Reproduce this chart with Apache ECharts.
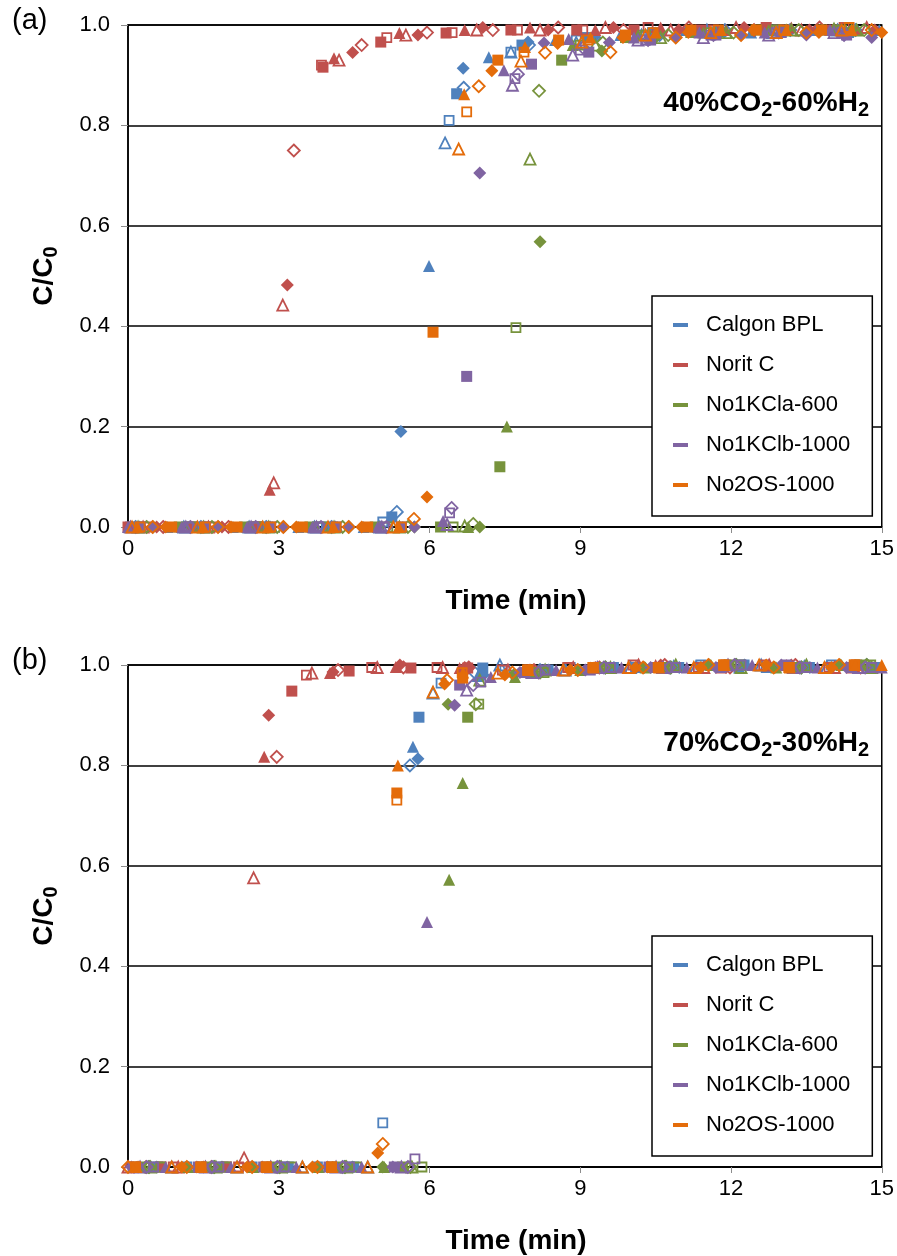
<!DOCTYPE html>
<html>
<head>
<meta charset="utf-8">
<script src="https://cdn.jsdelivr.net/npm/echarts@6/dist/echarts.min.js"></script>
<style>
html,body{margin:0;padding:0;background:#fff;}
#chart{width:897px;height:1256px;}
</style>
</head>
<body>
<div id="chart"></div>
<script>
// ---------------- DATA ----------------
const MATERIALS = ['Calgon BPL', 'Norit C', 'No1KCla-600', 'No1KClb-1000', 'No2OS-1000'];
const X_TICKS = [0, 3, 6, 9, 12, 15];
const Y_TICKS = [0.0, 0.2, 0.4, 0.6, 0.8, 1.0];
const PANEL_LABELS = ['(a)', '(b)'];
const GAS_LABELS = [['40%CO', '2', '-60%H', '2'], ['70%CO', '2', '-30%H', '2']];
// each material: 6 runs [filled square, filled triangle, filled diamond, open square, open triangle, open diamond]; points [time(min), C/C0]

// Panel (a) 40%CO2-60%H2
const A_CALGON = [
  [[0.05,0],[1.35,0],[2.65,0],[3.95,0],[5.25,0.02],[6.54,0.863],[7.84,0.96],[9.14,0.975],[10.44,0.985],[11.74,0.988],[13.04,0.99],[14.34,0.985]],
  [[0.79,0],[2.09,0],[3.39,0],[4.69,0],[5.99,0.52],[7.18,0.936],[8.5,0.97],[9.8,0.98],[11.1,0.99],[12.4,0.985],[13.7,0.99],[14.95,0.99]],
  [[0.23,0],[1.53,0],[2.83,0],[4.13,0],[5.43,0.19],[6.67,0.914],[7.96,0.966],[9.26,0.975],[10.56,0.98],[11.86,0.985],[13.16,0.99],[14.46,0.99]],
  [[1.17,0],[2.47,0],[3.77,0],[5.07,0.01],[6.39,0.81],[7.62,0.946],[8.92,0.97],[10.22,0.98],[11.52,0.985],[12.82,0.99],[14.12,0.99]],
  [[1.11,0],[2.41,0],[3.71,0],[5.01,0],[6.31,0.765],[7.62,0.946],[8.92,0.965],[10.22,0.98],[11.52,0.99],[12.82,0.985],[14.12,0.99]],
  [[0.15,0],[1.45,0],[2.75,0],[4.05,0],[5.35,0.03],[6.68,0.875],[7.98,0.96],[9.28,0.975],[10.58,0.98],[11.88,0.99],[13.18,0.99],[14.48,0.99]]
];
const A_NORIT = [
  [[0.0,0],[1.28,0],[2.58,0],[3.88,0.916],[5.03,0.966],[6.33,0.984],[7.62,0.99],[8.93,0.99],[10.07,0.99],[11.4,0.99],[12.7,0.995],[14.0,0.99]],
  [[0.22,0],[1.52,0],[2.82,0.074],[4.1,0.934],[5.4,0.984],[6.7,0.99],[8.0,0.995],[9.3,0.99],[10.6,0.995],[11.9,0.99],[13.2,0.995],[14.5,0.99]],
  [[0.57,0],[1.87,0],[3.17,0.482],[4.47,0.945],[5.77,0.98],[7.06,0.995],[8.36,0.99],[9.66,0.995],[10.96,0.99],[12.26,0.995],[13.56,0.99],[14.86,0.99]],
  [[0.35,0],[1.65,0],[2.55,0],[3.85,0.92],[5.15,0.975],[6.45,0.985],[7.75,0.99],[9.05,0.99],[10.35,0.995],[11.65,0.99],[12.95,0.99],[14.25,0.995]],
  [[0.3,0],[1.6,0],[2.9,0.088],[3.08,0.442],[4.2,0.93],[5.53,0.98],[6.94,0.99],[8.2,0.99],[9.5,0.995],[10.8,0.99],[12.1,0.995],[13.4,0.99],[14.7,0.995]],
  [[0.7,0],[2.0,0],[3.3,0.75],[4.65,0.96],[5.95,0.985],[7.26,0.99],[8.56,0.995],[9.86,0.99],[11.16,0.995],[12.46,0.99],[13.76,0.995]]
];
const A_KCLA = [
  [[1.02,0],[2.32,0],[3.62,0],[4.92,0],[6.22,0],[7.4,0.12],[8.63,0.93],[9.9,0.975],[11.2,0.985],[12.5,0.99],[13.8,0.99]],
  [[0.27,0],[1.57,0],[2.87,0],[4.17,0],[5.47,0],[6.77,0],[7.54,0.2],[8.85,0.96],[10.15,0.98],[11.45,0.985],[12.75,0.99],[14.05,0.995]],
  [[0.5,0],[1.8,0],[3.1,0],[4.4,0],[5.7,0],[7.0,0],[8.2,0.568],[9.43,0.948],[10.5,0.975],[11.8,0.985],[13.1,0.99],[14.4,0.99]],
  [[1.27,0],[2.57,0],[3.87,0],[5.17,0],[6.47,0],[7.72,0.397],[9.0,0.96],[10.3,0.98],[11.6,0.985],[12.9,0.99],[14.2,0.99]],
  [[0.2,0],[1.5,0],[2.8,0],[4.1,0],[5.4,0],[6.7,0.002],[8.0,0.733],[9.3,0.96],[10.6,0.975],[11.9,0.985],[13.2,0.99],[14.5,0.99]],
  [[0.37,0],[1.67,0],[2.97,0],[4.27,0],[5.57,0],[6.87,0.006],[8.18,0.869],[9.45,0.965],[10.75,0.98],[12.05,0.985],[13.35,0.99],[14.65,0.99]]
];
const A_KCLB = [
  [[0.24,0],[1.54,0],[2.84,0],[4.14,0],[5.44,0],[6.74,0.30],[8.03,0.922],[9.17,0.946],[10.4,0.97],[11.7,0.98],[13.0,0.985],[14.3,0.98]],
  [[0.0,0],[1.07,0],[2.37,0],[3.67,0],[4.97,0],[6.27,0.012],[7.48,0.91],[8.77,0.972],[10.07,0.975],[11.37,0.985],[12.67,0.985],[13.97,0.99]],
  [[0.5,0],[1.8,0],[3.1,0],[4.4,0],[5.7,0],[7.0,0.705],[8.28,0.964],[9.58,0.965],[10.9,0.975],[12.2,0.98],[13.5,0.98],[14.8,0.975]],
  [[1.2,0],[2.5,0],[3.8,0],[5.1,0],[6.4,0.028],[7.7,0.893],[9.0,0.95],[10.3,0.97],[11.6,0.98],[12.9,0.985],[14.2,0.985]],
  [[0.05,0],[1.15,0],[2.45,0],[3.75,0],[5.05,0],[6.35,0.005],[7.65,0.88],[8.85,0.94],[10.15,0.97],[11.45,0.975],[12.75,0.98],[14.05,0.985]],
  [[1.24,0],[2.54,0],[3.84,0],[5.14,0],[6.44,0.038],[7.76,0.902],[9.05,0.955],[10.35,0.97],[11.65,0.98],[12.95,0.985],[14.25,0.98]]
];
const A_OS = [
  [[0.87,0],[2.17,0],[3.47,0],[4.77,0],[6.07,0.388],[7.36,0.93],[8.57,0.97],[9.9,0.98],[11.2,0.99],[12.5,0.99],[13.8,0.99]],
  [[0.19,0],[1.49,0],[2.79,0],[4.09,0],[5.39,0],[6.69,0.862],[7.9,0.956],[9.2,0.975],[10.5,0.985],[11.8,0.99],[13.1,0.99],[14.4,0.99]],
  [[0.75,0],[2.05,0],[3.35,0],[4.65,0],[5.95,0.06],[7.24,0.909],[8.55,0.963],[9.85,0.975],[11.15,0.985],[12.45,0.99],[13.75,0.985],[15.0,0.985]],
  [[0.24,0],[1.54,0],[2.84,0],[4.14,0],[5.44,0],[6.74,0.827],[7.88,0.946],[9.15,0.97],[10.45,0.985],[11.75,0.99],[13.05,0.99],[14.35,0.995]],
  [[0.08,0],[1.38,0],[2.68,0],[3.98,0],[5.28,0],[6.58,0.753],[7.82,0.928],[9.03,0.966],[10.3,0.98],[11.6,0.985],[12.9,0.985],[14.2,0.99]],
  [[0.49,0],[1.79,0],[3.09,0],[4.39,0],[5.69,0.016],[6.98,0.878],[8.3,0.945],[9.6,0.946],[10.9,0.975],[12.2,0.98],[13.5,0.985],[14.8,0.99]]
];

// Panel (b) 70%CO2-30%H2
const B_CALGON = [
  [[0.59,0],[1.89,0],[3.19,0],[4.49,0],[5.79,0.896],[7.06,0.994],[8.36,0.99],[9.66,0.995],[10.96,0.995],[12.26,1.0],[13.56,0.995],[14.86,0.995]],
  [[0.47,0],[1.77,0],[3.07,0],[4.37,0],[5.67,0.837],[6.96,0.978],[8.26,0.99],[9.56,0.995],[10.86,1.0],[12.16,0.995],[13.46,1.0],[14.76,0.995]],
  [[0.57,0],[1.87,0],[3.17,0],[4.47,0],[5.77,0.813],[7.07,0.98],[8.37,0.99],[9.67,0.995],[10.97,0.995],[12.27,1.0],[13.57,0.995],[14.87,0.995]],
  [[1.17,0],[2.47,0],[3.77,0],[5.07,0.088],[6.23,0.964],[7.5,0.99],[8.8,0.995],[10.1,0.995],[11.4,1.0],[12.7,0.995],[14.0,1.0]],
  [[0.87,0],[2.17,0],[3.47,0],[4.77,0],[6.07,0.944],[7.4,1.0],[8.7,0.99],[10.0,0.995],[11.3,0.995],[12.6,1.0],[13.9,0.995]],
  [[0.41,0],[1.71,0],[3.01,0],[4.31,0],[5.61,0.8],[6.9,0.985],[8.2,0.99],[9.5,0.995],[10.8,0.995],[12.1,1.0],[13.4,0.995],[14.7,1.0]]
];
const B_NORIT = [
  [[0.66,0],[1.96,0],[3.26,0.948],[4.4,0.988],[5.63,0.994],[6.76,0.994],[8.0,0.99],[9.3,0.995],[10.6,0.995],[11.9,1.0],[13.2,0.995],[14.5,1.0]],
  [[0.11,0],[1.41,0],[2.71,0.817],[4.02,0.984],[5.33,0.996],[6.6,0.994],[7.9,0.99],[9.2,0.995],[10.5,1.0],[11.8,0.995],[13.1,1.0],[14.4,0.995]],
  [[0.2,0],[1.5,0],[2.8,0.9],[4.08,0.986],[5.41,1.0],[6.7,0.995],[8.0,0.99],[9.3,0.995],[10.6,1.0],[11.9,0.995],[13.2,1.0],[14.5,0.995]],
  [[0.9,0],[2.2,0],[3.55,0.98],[4.85,0.995],[6.15,0.995],[7.45,0.99],[8.75,0.995],[10.05,1.0],[11.35,0.995],[12.65,1.0],[13.95,0.995]],
  [[0.0,0],[1.0,0],[2.31,0.018],[2.5,0.576],[3.66,0.984],[4.96,0.995],[6.26,0.995],[7.56,0.99],[8.86,0.995],[10.16,1.0],[11.46,0.995],[12.76,1.0],[14.06,0.995]],
  [[0.36,0],[1.66,0],[2.96,0.817],[4.18,0.99],[5.48,0.995],[6.78,0.995],[8.08,0.99],[9.38,0.995],[10.68,1.0],[11.98,0.995],[13.28,1.0],[14.58,0.995]]
];
const B_KCLA = [
  [[0.26,0],[1.56,0],[2.86,0],[4.16,0],[5.46,0],[6.76,0.896],[8.06,0.985],[9.36,0.995],[10.66,0.995],[11.96,1.0],[13.26,0.995],[14.56,1.0]],
  [[1.2,0],[2.5,0],[3.8,0],[5.1,0],[6.39,0.572],[6.66,0.765],[7.7,0.976],[9.0,0.99],[10.3,0.995],[11.6,1.0],[12.9,0.995],[14.2,1.0]],
  [[1.17,0],[2.47,0],[3.77,0],[5.07,0],[6.37,0.922],[7.67,0.98],[8.97,0.99],[10.27,0.995],[11.57,1.0],[12.87,0.995],[14.17,1.0]],
  [[0.65,0],[1.95,0],[3.25,0],[4.55,0],[5.85,0],[6.98,0.922],[8.28,0.985],[9.58,0.995],[10.88,0.995],[12.18,1.0],[13.48,0.995],[14.78,1.0]],
  [[0.45,0],[1.75,0],[3.05,0],[4.35,0],[5.65,0],[7.0,0.97],[8.3,0.99],[9.6,0.995],[10.9,1.0],[12.2,0.995],[13.5,1.0],[14.8,0.995]],
  [[0.42,0],[1.72,0],[3.02,0],[4.32,0],[5.62,0],[6.92,0.922],[8.2,0.985],[9.5,0.995],[10.8,0.995],[12.1,1.0],[13.4,0.995],[14.7,1.0]]
];
const B_KCLB = [
  [[0.1,0],[1.4,0],[2.7,0],[4.0,0],[5.3,0],[6.6,0.96],[7.9,0.985],[9.2,0.99],[10.5,0.995],[11.8,0.995],[13.1,1.0],[14.4,0.995]],
  [[0.75,0],[2.05,0],[3.35,0],[4.65,0],[5.95,0.488],[7.22,0.976],[8.52,0.99],[9.82,0.995],[11.12,0.995],[12.42,1.0],[13.72,0.995],[15.0,0.995]],
  [[0.07,0],[1.37,0],[2.67,0],[3.97,0],[5.27,0],[6.5,0.92],[7.8,0.985],[9.1,0.99],[10.4,0.995],[11.7,0.995],[13.0,1.0],[14.3,0.995]],
  [[0.51,0],[1.81,0],[3.11,0],[4.41,0],[5.71,0.016],[7.02,0.966],[8.3,0.99],[9.6,0.995],[10.9,0.995],[12.2,1.0],[13.5,0.995],[14.8,0.995]],
  [[0.24,0],[1.54,0],[2.84,0],[4.14,0],[5.44,0],[6.74,0.95],[8.04,0.985],[9.34,0.995],[10.64,0.995],[11.94,1.0],[13.24,0.995],[14.54,0.995]],
  [[0.37,0],[1.67,0],[2.97,0],[4.27,0],[5.57,0],[6.87,0.96],[8.17,0.985],[9.47,0.995],[10.77,0.995],[12.07,1.0],[13.37,0.995],[14.67,0.995]]
];
const B_OS = [
  [[0.15,0],[1.45,0],[2.75,0],[4.05,0],[5.35,0.745],[6.66,0.974],[7.96,0.99],[9.26,0.995],[10.56,0.995],[11.86,1.0],[13.16,0.995],[14.46,1.0]],
  [[0.17,0],[1.47,0],[2.77,0],[4.07,0],[5.37,0.8],[6.67,0.985],[7.97,0.99],[9.27,0.995],[10.57,0.995],[11.87,1.0],[13.17,0.995],[14.47,1.0],[15.0,1.0]],
  [[1.07,0],[2.37,0],[3.67,0],[4.97,0.028],[6.3,0.962],[7.5,0.98],[8.8,0.99],[10.1,0.995],[11.4,0.995],[12.7,1.0],[14.0,0.995]],
  [[0.15,0],[1.45,0],[2.75,0],[4.05,0],[5.35,0.731],[6.65,0.985],[7.95,0.99],[9.25,0.995],[10.55,0.995],[11.85,1.0],[13.15,0.995],[14.45,1.0]],
  [[0.87,0],[2.17,0],[3.47,0],[4.77,0],[6.07,0.946],[7.36,0.984],[8.66,0.99],[9.96,0.995],[11.26,0.995],[12.56,1.0],[13.86,0.995]],
  [[0.0,0],[1.17,0],[2.47,0],[3.77,0],[5.07,0.046],[6.35,0.97],[7.65,0.985],[8.95,0.99],[10.25,0.995],[11.55,1.0],[12.85,0.995],[14.15,1.0]]
];

// ---------------- STYLE ----------------
const FF = '"Liberation Sans", Arial, Helvetica, sans-serif';
const COLORS = ['#4F81BD', '#C0504D', '#77933C', '#8064A2', '#E46C0A'];
const RUN_SYMBOLS = ['rect', 'triangle', 'diamond', 'rect', 'triangle', 'diamond'];
const RUN_FILLED = [true, true, true, false, false, false];
const RUN_SIZES = [11, 12, 13, 9, 11, 12];

const PANELS = [
  [A_CALGON, A_NORIT, A_KCLA, A_KCLB, A_OS],
  [B_CALGON, B_NORIT, B_KCLA, B_KCLB, B_OS]
];
const GRID_TOPS = [25, 665];
const GRID_LEFT = 128, GRID_W = 754, GRID_H = 502;

const series = [];
PANELS.forEach((mats, p) => {
  mats.forEach((runs, m) => {
    runs.forEach((pts, r) => {
      const filled = RUN_FILLED[r];
      series.push({
        type: 'scatter',
        name: MATERIALS[m],
        xAxisIndex: p, yAxisIndex: p,
        data: pts,
        symbol: RUN_SYMBOLS[r],
        symbolSize: RUN_SIZES[r],
        clip: false,
        silent: true,
        animation: false,
        emphasis: { disabled: true },
        itemStyle: filled
          ? { color: COLORS[m], borderWidth: 0, opacity: 1 }
          : { color: 'rgba(255,255,255,0)', borderColor: COLORS[m], borderWidth: 1.8, opacity: 1 }
      });
    });
  });
});

const grids = GRID_TOPS.map(t => ({
  left: GRID_LEFT, top: t, width: GRID_W, height: GRID_H,
  show: true, borderColor: '#000', borderWidth: 1.5, backgroundColor: 'rgba(0,0,0,0)'
}));

const xAxes = GRID_TOPS.map((t, i) => ({
  type: 'value', gridIndex: i,
  min: X_TICKS[0], max: X_TICKS[X_TICKS.length - 1], interval: X_TICKS[1] - X_TICKS[0],
  axisLine: { show: true, onZero: false, lineStyle: { color: '#000', width: 1.5 } },
  axisTick: { show: true, inside: false, length: 6, lineStyle: { color: '#8c8c8c', width: 1 } },
  axisLabel: { fontSize: 22, fontFamily: FF, color: '#000', margin: 11 },
  splitLine: { show: false }
}));

const yAxes = GRID_TOPS.map((t, i) => ({
  type: 'value', gridIndex: i,
  min: Y_TICKS[0], max: Y_TICKS[Y_TICKS.length - 1], interval: Y_TICKS[1] - Y_TICKS[0],
  axisLine: { show: true, onZero: false, lineStyle: { color: '#000', width: 1.5 } },
  axisTick: { show: true, inside: false, length: 7, lineStyle: { color: '#8c8c8c', width: 1 } },
  axisLabel: { fontSize: 22, fontFamily: FF, color: '#000', margin: 18, formatter: v => v.toFixed(1) },
  splitLine: { show: true, lineStyle: { color: '#000', width: 1.6 } }
}));

const LEGEND_TOPS = [296, 936];
const legends = LEGEND_TOPS.map(t => ({
  orient: 'vertical', left: 652, top: t,
  padding: [17, 22, 19, 21],
  itemGap: 16, itemWidth: 15, itemHeight: 4, icon: 'rect',
  borderColor: '#000', borderWidth: 1.5, backgroundColor: '#fff',
  selectedMode: false,
  formatter: '{t|{name}}',
  textStyle: {
    fontSize: 22, fontFamily: FF, color: '#000', lineHeight: 24,
    rich: { t: { fontSize: 22, fontFamily: FF, color: '#000', lineHeight: 24, padding: [0, 0, 0, 13] } }
  },
  data: MATERIALS.map((n, i) => ({ name: n, itemStyle: { color: COLORS[i], borderWidth: 0, opacity: 1 } }))
}));

const richMain = { fontSize: 28, fontWeight: 'bold', fontFamily: FF, fill: '#000', lineHeight: 34 };
const richSub = { fontSize: 20, fontWeight: 'bold', fontFamily: FF, fill: '#000', lineHeight: 20, verticalAlign: 'bottom' };

const graphics = [];
GRID_TOPS.forEach((t, i) => {
  graphics.push({ type: 'text', x: 12, y: t - 4, silent: true,
    style: { text: PANEL_LABELS[i], fontSize: 29, fontFamily: FF, fill: '#000', align: 'left', verticalAlign: 'middle' } });
  const g = GAS_LABELS[i];
  graphics.push({ type: 'text', x: 869, y: t + 78, silent: true,
    style: { text: '{n|' + g[0] + '}{s|' + g[1] + '}{n|' + g[2] + '}{s|' + g[3] + '}',
      align: 'right', verticalAlign: 'middle', rich: { n: richMain, s: richSub } } });
  graphics.push({ type: 'text', x: 44, y: t + GRID_H / 2, rotation: Math.PI / 2, silent: true,
    style: { text: '{n|C/C}{s|0}', align: 'center', verticalAlign: 'middle', rich: { n: richMain, s: richSub } } });
  graphics.push({ type: 'text', x: 516, y: t + GRID_H + 74, silent: true,
    style: { text: 'Time (min)', fontSize: 28, fontWeight: 'bold', fontFamily: FF, fill: '#000', align: 'center', verticalAlign: 'middle' } });
});

const chart = echarts.init(document.getElementById('chart'), null, { renderer: 'canvas' });
chart.setOption({
  animation: false,
  backgroundColor: '#fff',
  grid: grids,
  xAxis: xAxes,
  yAxis: yAxes,
  legend: legends,
  graphic: graphics,
  series: series
});
</script>
</body>
</html>
